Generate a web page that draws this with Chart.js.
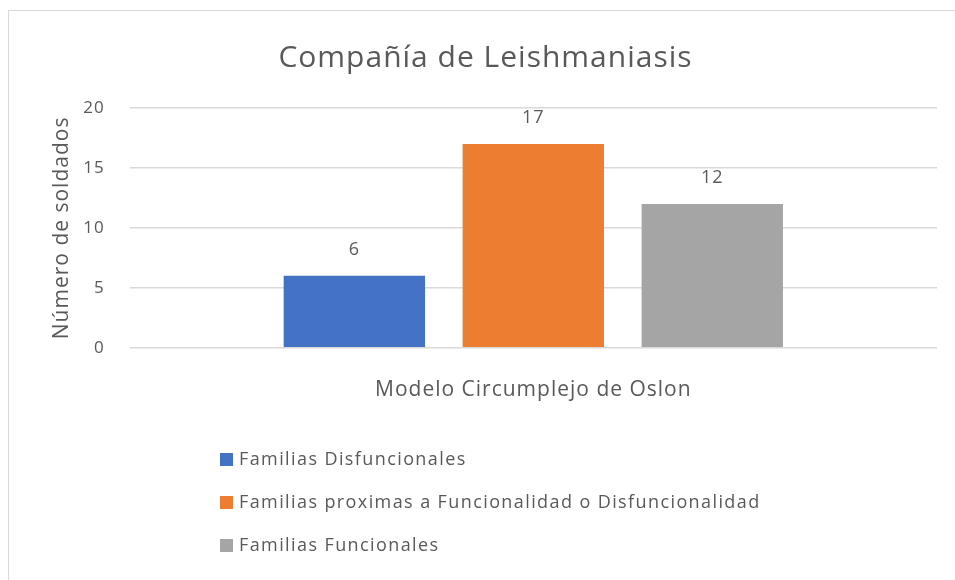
<!DOCTYPE html>
<html>
  <head>
    <meta charset="utf-8">
    <title>Compañía de Leishmaniasis</title>
    <script src="https://cdn.jsdelivr.net/npm/chart.js@4.4.1/dist/chart.umd.min.js"></script>
    <style media="screen">
      body {
        margin: 0;
        background: #ffffff;
      }
      .frame {
        position: absolute;
        left: 8px;
        top: 10px;
        width: 960px;
        height: 580px;
        border-left: 1px solid #d9d9d9;
        border-top: 1px solid #d9d9d9;
      }
      #myChart {
        position: absolute;
        left: 0;
        top: 0;
      }
      .legend {
        position: absolute;
        left: 220px;
        top: 445px;
        margin: 0;
        padding: 0;
        list-style: none;
        font-family: "Open Sans", sans-serif;
        font-size: 18px;
        letter-spacing: 1.4px;
        color: #595959;
      }
      .legend li {
        height: 26px;
        line-height: 26px;
        margin-bottom: 17px;
      }
      .legend span {
        display: inline-block;
        width: 13px;
        height: 13px;
        margin-right: 6px;
        vertical-align: -1px;
      }
    </style>
  </head>
  <body>
    <div class="frame"></div>
    <canvas id="myChart" width="955" height="580"></canvas>
    <ul class="legend" id="legend"></ul>
  </body>
  <script>
    const categories = ['Modelo Circumplejo de Oslon'];
    const seriesNames = [
      'Familias Disfuncionales',
      'Familias proximas a Funcionalidad o Disfuncionalidad',
      'Familias Funcionales'
    ];
    const seriesValues = [6, 17, 12];
    const seriesColors = ['#4472C4', '#ED7D31', '#A5A5A5'];
    const yTicks = [0, 5, 10, 15, 20];

    const textColor = '#595959';
    const fontName = '"Open Sans", sans-serif';

    // the original text is a bit wider than Open Sans, so open it up a little
    const spacing = {
      id: 'spacing',
      beforeLayout: function(chart) {
        chart.ctx.letterSpacing = '1px';
      },
      beforeDraw: function(chart) {
        chart.ctx.letterSpacing = '1px';
      }
    };

    // value labels above each bar
    const valueLabels = {
      id: 'valueLabels',
      afterDatasetsDraw: function(chart) {
        const ctx = chart.ctx;
        ctx.save();
        ctx.fillStyle = textColor;
        ctx.font = '18px ' + fontName;
        ctx.textAlign = 'center';
        ctx.textBaseline = 'bottom';
        chart.data.datasets.forEach(function(ds, i) {
          chart.getDatasetMeta(i).data.forEach(function(bar, j) {
            ctx.fillText(ds.data[j], bar.x, bar.y - 17);
          });
        });
        ctx.restore();
      }
    };

    const datasets = [];
    for (let i = 0; i < seriesNames.length; i++) {
      datasets.push({
        label: seriesNames[i],
        data: [seriesValues[i]],
        backgroundColor: seriesColors[i],
        categoryPercentage: 0.665,
        barPercentage: 0.79
      });
    }

    const ctx = document.getElementById('myChart').getContext('2d');
    const myChart = new Chart(ctx, {
      type: 'bar',
      data: {
        labels: categories,
        datasets: datasets
      },
      plugins: [spacing, valueLabels],
      options: {
        responsive: false,
        animation: false,
        layout: {
          padding: { left: 34, right: 18, top: 10, bottom: 155 }
        },
        plugins: {
          legend: { display: false },
          tooltip: { enabled: false },
          title: {
            display: true,
            text: 'Compañía de Leishmaniasis',
            color: textColor,
            font: { family: fontName, size: 30, weight: 'normal' },
            padding: { top: 30, bottom: 32 }
          }
        },
        scales: {
          x: {
            grid: { display: false },
            border: { display: false },
            ticks: {
              color: textColor,
              font: { family: fontName, size: 21 },
              padding: 22
            }
          },
          y: {
            min: 0,
            max: 20,
            afterBuildTicks: function(axis) {
              axis.ticks = yTicks.map(function(v) { return { value: v }; });
            },
            grid: { color: '#d9d9d9', lineWidth: 1.5, drawTicks: false },
            border: { display: false },
            ticks: {
              color: textColor,
              font: { family: fontName, size: 17 },
              padding: 25
            },
            title: {
              display: true,
              text: 'Número de soldados',
              color: textColor,
              font: { family: fontName, size: 21 },
              padding: { top: 15, bottom: -16 }
            }
          }
        }
      }
    });

    // legend stacked one per row, as in the original
    const legendEl = document.getElementById('legend');
    seriesNames.forEach(function(name, i) {
      const li = document.createElement('li');
      const box = document.createElement('span');
      box.style.background = seriesColors[i];
      li.appendChild(box);
      li.appendChild(document.createTextNode(name));
      legendEl.appendChild(li);
    });
  </script>
</html>
